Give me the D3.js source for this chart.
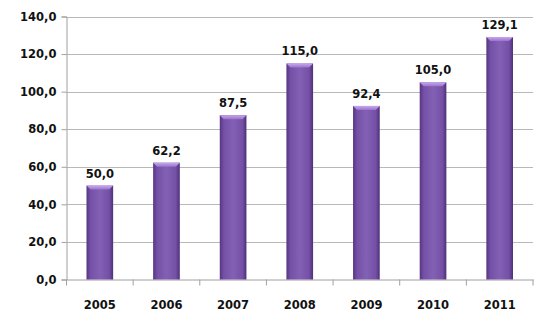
<!DOCTYPE html>
<html><head><meta charset="utf-8">
<script src="https://cdn.jsdelivr.net/npm/d3@7"></script>
<style>body{margin:0;background:#fff}svg{display:block}</style>
</head><body>
<script>
const years = ["2005","2006","2007","2008","2009","2010","2011"];
const values = [50.0, 62.2, 87.5, 115.0, 92.4, 105.0, 129.1];
const yTicks = [0,20,40,60,80,100,120,140];

const W=550,H=330;
const m={l:66.5,r:17,t:16.5,b:50.5};
const svg=d3.select("body").append("svg").attr("width",W).attr("height",H);
const defs=svg.append("defs");
const g1=defs.append("linearGradient").attr("id","bar").attr("x1","0").attr("x2","1").attr("y1","0").attr("y2","0");
[[0,"#553580"],[0.15,"#7450a6"],[0.5,"#8261b4"],[0.85,"#7450a6"],[1,"#4e3078"]].forEach(([o,c])=>g1.append("stop").attr("offset",o).attr("stop-color",c));
const g2=defs.append("linearGradient").attr("id","cap").attr("x1","0").attr("x2","0").attr("y1","0").attr("y2","1");
[[0,"#c9a8ee"],[1,"#9a74cc"]].forEach(([o,c])=>g2.append("stop").attr("offset",o).attr("stop-color",c));

const x=d3.scaleBand().domain(years).range([m.l,W-m.r]).paddingInner(0.6).paddingOuter(0.3);
const y=d3.scaleLinear().domain([0,140]).range([H-m.b,m.t]);
const fmt=d=>d.toFixed(1).replace(".",",");
const font="'DejaVu Sans', sans-serif";
const fs="11.5px";

// grid
svg.append("g").selectAll("line").data(yTicks.slice(1)).join("line")
  .attr("x1",m.l).attr("x2",W-m.r).attr("y1",d=>Math.round(y(d))+0.5).attr("y2",d=>Math.round(y(d))+0.5)
  .attr("stroke","#b8b8b8").attr("stroke-width",1);

// y axis
const ya=svg.append("g").attr("transform",`translate(${m.l},0)`).call(d3.axisLeft(y).tickValues(yTicks).tickFormat(fmt).tickSize(5));
ya.select(".domain").attr("stroke","#a0a0a0");
ya.selectAll(".tick line").attr("stroke","#a0a0a0");
ya.selectAll("text").attr("x",-10).attr("font-family",font).attr("font-weight","bold").attr("font-size",fs).attr("fill","#111");

// x axis
const xb=d3.scaleBand().domain(years).range([m.l,W-m.r]);
const xa=svg.append("g").attr("transform",`translate(0,${y(0)})`).call(d3.axisBottom(x).tickSize(0).tickPadding(21));
xa.select(".domain").attr("stroke","#a0a0a0");
xa.selectAll("text").attr("font-family",font).attr("font-weight","bold").attr("font-size",fs).attr("fill","#111");
svg.append("g").selectAll("line").data(years).join("line")
  .attr("x1",d=>xb(d)+xb.bandwidth()).attr("x2",d=>xb(d)+xb.bandwidth())
  .attr("y1",y(0)).attr("y2",y(0)+6).attr("stroke","#a0a0a0");
svg.append("line").attr("x1",m.l).attr("x2",m.l).attr("y1",y(0)).attr("y2",y(0)+6).attr("stroke","#a0a0a0");

// bars
const bars=svg.append("g");
bars.selectAll("rect.b").data(values).join("rect").attr("class","b")
  .attr("x",(d,i)=>x(years[i])).attr("width",x.bandwidth())
  .attr("y",d=>y(d)).attr("height",d=>y(0)-y(d)).attr("fill","url(#bar)");
bars.selectAll("path.c").data(values).join("path").attr("class","c")
  .attr("d",(d,i)=>{const x0=x(years[i]),w=x.bandwidth(),t=y(d);return `M${x0},${t}H${x0+w}L${x0+w-4},${t+4}H${x0+4}Z`;})
  .attr("fill","url(#cap)");

// labels
svg.append("g").selectAll("text").data(values).join("text")
  .attr("x",(d,i)=>x(years[i])+x.bandwidth()/2).attr("y",d=>y(d)-8)
  .attr("text-anchor","middle").attr("font-family",font).attr("font-weight","bold").attr("font-size",fs).attr("fill","#111")
  .text(fmt);
</script>
</body></html>
